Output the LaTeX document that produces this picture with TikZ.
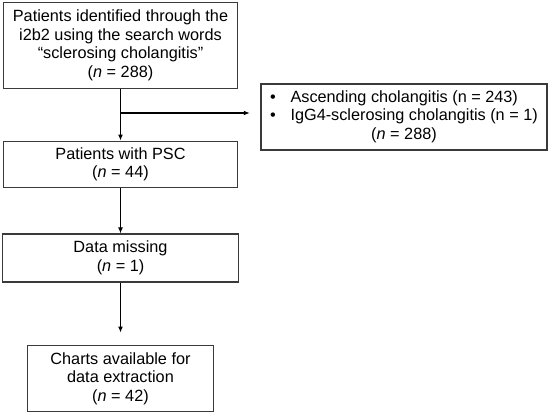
\documentclass[tikz,border=0pt]{standalone}
\usepackage{fontspec}
\setmainfont{Liberation Sans}
\usetikzlibrary{arrows.meta, positioning, calc}
\definecolor{cline}{HTML}{3A3A3A}
\tikzset{
  every picture/.style={font=\fontsize{12.2}{13.9}\selectfont, line width=0.8pt},
  box/.style={draw=cline, fill=white, align=center, inner sep=2pt},
  arrow/.style={-{Latex[length=4.5pt, width=3.6pt]}, draw=black, line width=0.8pt},
}

\begin{document}
\begin{tikzpicture}[x=0.75pt, y=-0.75pt]
  \useasboundingbox (0,0) rectangle (550,416);
  % main column
  \node[box, minimum width=176pt, minimum height=64pt] (found) at (120.5,45.5)
    {Patients identified through the\\i2b2 using the search words\\``sclerosing cholangitis''\\(\textit{n} = 288)};
  \node[box, minimum width=176pt, minimum height=35pt] (psc) at (120.5,164.5)
    {Patients with PSC\\(\textit{n} = 44)};
  \node[box, minimum width=177pt, minimum height=36pt] (missing) at (120.5,258)
    {Data missing\\(\textit{n} = 1)};
  \node[box, minimum width=139.5pt, minimum height=50pt] (charts) at (120.5,378.5)
    {Charts available for\\data extraction\\(\textit{n} = 42)};
  % side: excluded
  \node[box, minimum width=214.5pt, minimum height=49.5pt] (excl) at (404,117)
    {\begin{tabular}{@{}l@{\hspace{11pt}}l@{}}
      \textbullet & Ascending cholangitis (n = 243)\\
      \textbullet & IgG4-sclerosing cholangitis (n = 1)\\
      \multicolumn{2}{c}{(\textit{n} = 288)}
    \end{tabular}};
  \coordinate (split) at (120.5,113);
  \draw[arrow] (found.south) -- (psc.north);
  \draw[arrow, shorten >=8pt] (split) -- (split -| excl.west);
  \draw[arrow] (psc.south) -- (missing.north);
  \draw[arrow, shorten >=9pt] (missing.south) -- (charts.north);
\end{tikzpicture}
\end{document}
